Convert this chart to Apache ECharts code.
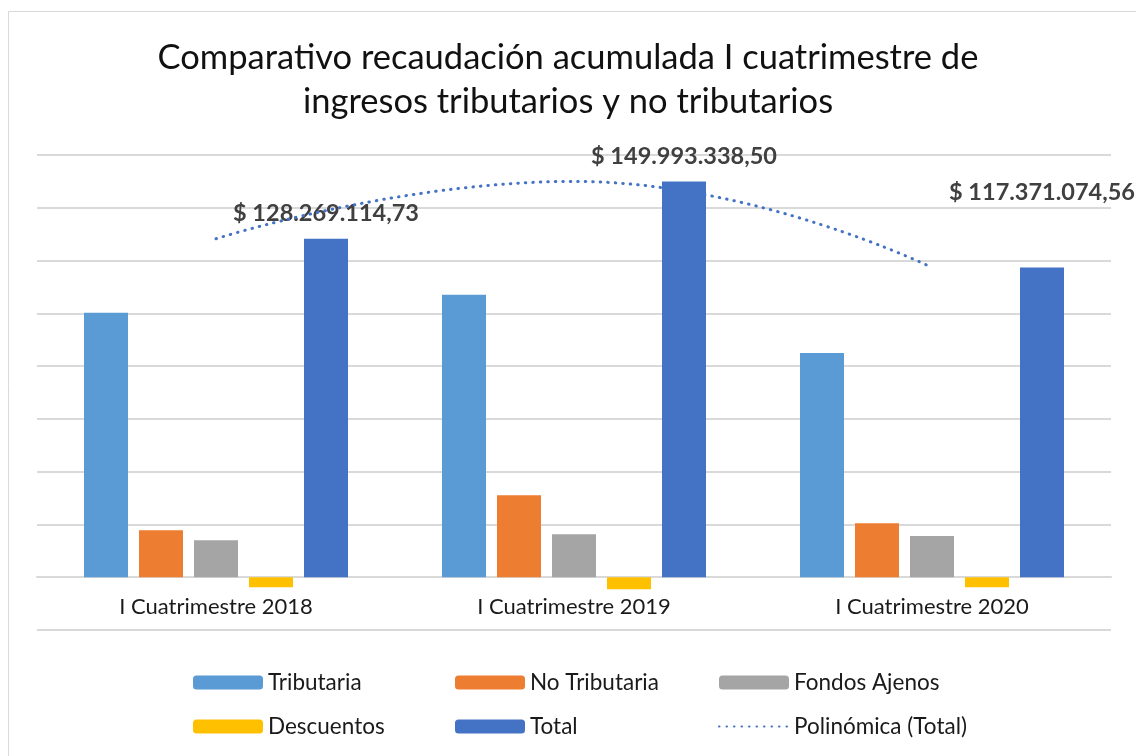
<!DOCTYPE html>
<html>
<head>
<meta charset="utf-8">
<script src="https://cdn.jsdelivr.net/npm/echarts@6/dist/echarts.min.js"></script>
<style>
  html, body { margin: 0; padding: 0; background: #fff; }
  #chart { width: 1136px; height: 756px; }
</style>
</head>
<body>
<div id="chart"></div>
<script>
// datos (pesos)
const categorias = ['I Cuatrimestre 2018', 'I Cuatrimestre 2019', 'I Cuatrimestre 2020']
const tributaria = [100200000, 107000000, 85000000]
const noTributaria = [17800000, 31100000, 20500000]
const fondosAjenos = [14000000, 16300000, 15600000]
const descuentos = [-3800000, -4600000, -3800000]
const total = [128269114.73, 149993338.50, 117371074.56]

const azul = '#4472C4'

function formatoPesos(v) {
    const partes = v.toFixed(2).split('.')
    const entero = partes[0].replace(/\B(?=(\d{3})+(?!\d))/g, '.')
    return '$ ' + entero + ',' + partes[1]
}

const chartDiv = document.getElementById('chart')
const myChart = echarts.init(chartDiv)

const fuente = 'Lato'

// el ultimo rotulo esta movido hacia arriba
const desplazamientos = [0, 0, -50]

const barra = (name, data, color) => ({
    name: name,
    type: 'bar',
    data: data,
    barWidth: 44,
    barGap: '25%',
    itemStyle: { color: color }
})

const legendaBase = {
    orient: 'vertical',
    top: 671,
    padding: 0,
    itemWidth: 70,
    itemHeight: 14,
    itemGap: 21,
    textStyle: { fontFamily: fuente, fontSize: 22.5, color: '#1a1a1a' }
}

// alto de una division de 20M en pixeles (grid de 475px / 9)
const paso = 475 / 9

myChart.setOption({
    animation: false,
    textStyle: { fontFamily: fuente },
    title: {
        text: 'Comparativo recaudación acumulada I cuatrimestre de\ningresos tributarios y no tributarios',
        left: 'center',
        top: 31,
        padding: [5, 5, 5, 20],
        textStyle: {
            fontFamily: fuente,
            fontSize: 34.5,
            fontWeight: 'normal',
            color: '#111',
            lineHeight: 44
        }
    },
    graphic: [{
        type: 'rect',
        shape: { x: 8.5, y: 11.5, width: 1200, height: 800 },
        style: { fill: 'none', stroke: '#d9d9d9', lineWidth: 1 }
    }],
    legend: [
        Object.assign({}, legendaBase, { left: 193, data: ['Tributaria', 'Descuentos'] }),
        Object.assign({}, legendaBase, { left: 455, data: ['No Tributaria', 'Total'] }),
        Object.assign({}, legendaBase, {
            left: 718,
            data: ['Fondos Ajenos', { name: 'Polinómica (Total)', itemStyle: { opacity: 0 } }]
        })
    ],
    grid: { left: 37, right: 25, top: 155, bottom: 126 },
    xAxis: {
        type: 'category',
        data: categorias,
        offset: -paso,
        axisTick: { show: false },
        axisLine: { onZero: false, lineStyle: { color: '#d9d9d9', width: 2 } },
        axisLabel: { fontSize: 22, color: '#1a1a1a', margin: 19, fontFamily: fuente }
    },
    yAxis: {
        type: 'value',
        min: -20000000,
        max: 160000000,
        interval: 20000000,
        axisLabel: { show: false },
        axisLine: { show: false },
        axisTick: { show: false },
        splitLine: { lineStyle: { color: '#d9d9d9', width: 2 } }
    },
    series: [
        barra('Tributaria', tributaria, '#5B9BD5'),
        barra('No Tributaria', noTributaria, '#ED7D31'),
        barra('Fondos Ajenos', fondosAjenos, '#A5A5A5'),
        barra('Descuentos', descuentos, '#FFC000'),
        Object.assign(barra('Total', total.map((v, i) => ({
            value: v,
            label: { offset: [0, desplazamientos[i]] }
        })), azul), {
            label: {
                show: true,
                position: 'top',
                distance: 13,
                fontFamily: fuente,
                fontSize: 23.5,
                fontWeight: 'bold',
                color: '#404040',
                formatter: p => formatoPesos(p.value)
            }
        }),
        {
            name: 'Polinómica (Total)',
            type: 'line',
            data: total,
            smooth: true,
            symbol: 'none',
            z: 5,
            itemStyle: { color: azul },
            lineStyle: { color: azul, width: 3, type: [0.5, 7], cap: 'round' }
        }
    ]
})
</script>
</body>
</html>
